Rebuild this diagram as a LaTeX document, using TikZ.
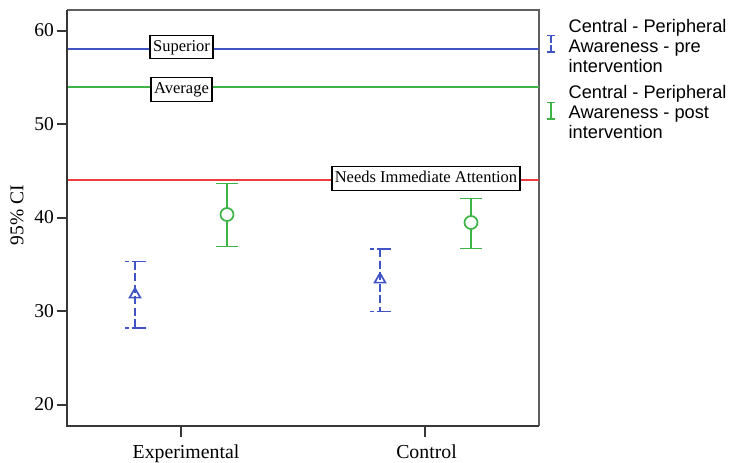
\documentclass[tikz,border=0pt]{standalone}
\usepackage{fontspec}
\setmainfont{Liberation Serif}
\newfontfamily\legendfont{Liberation Sans}
\usetikzlibrary{shapes.geometric}

\definecolor{preblue}{RGB}{64,84,196}
\definecolor{postgreen}{RGB}{62,180,72}
\definecolor{alertred}{RGB}{236,62,62}
\definecolor{framegray}{RGB}{55,55,55}

\tikzset{
  axisline/.style={draw=framegray, line width=2pt},
  frameline/.style={draw=framegray!80, line width=1.2pt},
  refline/.style={line width=1.8pt},
  refbox/.style={draw=black, fill=white, line width=1.4pt, font=\fontsize{16.5}{18}\selectfont,
    inner xsep=3pt, inner ysep=4pt, text height=12pt, text depth=3.5pt},
  ticklabel/.style={font=\fontsize{19.5}{21}\selectfont},
  prebar/.style={draw=preblue, line width=1.9pt, dash pattern=on 8pt off 3.5pt},
  precap/.style={draw=preblue, line width=1.9pt, dash pattern=on 4pt off 3pt on 14pt off 0pt},
  postbar/.style={draw=postgreen, line width=1.9pt},
  premark/.style={regular polygon, regular polygon sides=3, draw=preblue, line width=1.7pt,
    minimum size=12.5pt, inner sep=0pt},
  postmark/.style={circle, draw=postgreen, fill=white, line width=1.7pt,
    minimum size=13pt, inner sep=0pt},
  legendtext/.style={font=\legendfont\fontsize{18.2}{20}\selectfont, align=left, anchor=west, inner sep=0pt},
}

\begin{document}
\begin{tikzpicture}[x=1pt, y=-1pt]
\useasboundingbox[fill=white] (0,0) rectangle (731,463);

% plot frame
\coordinate (tl) at (67,10);
\coordinate (tr) at (539,10);
\coordinate (bl) at (67,425.5);
\coordinate (br) at (539,425.5);
\draw[frameline] (tl) -- (tr) -- (br);

% reference levels
\coordinate (supL) at (67,49.2);   \coordinate (supR) at (539,49.2);
\coordinate (avgL) at (67,86.8);   \coordinate (avgR) at (539,86.8);
\coordinate (nedL) at (67,180.1);  \coordinate (nedR) at (539,180.1);
\draw[refline, preblue] (supL) -- (supR);
\draw[refline, postgreen] (avgL) -- (avgR);
\draw[refline, alertred] (nedL) -- (nedR);

\node[refbox] (superior) at (181.5,47) {Superior};
\node[refbox] (average) at (181.5,89.5) {Average};
\node[refbox] (needs) at (426,178.5) {Needs Immediate Attention};

% axes
\draw[axisline] (tl) -- (bl) -- (br);

% y ticks
\foreach \v/\yy in {60/30.5, 50/124, 40/217.5, 30/311, 20/404.5} {
  \coordinate (yt\v) at (57,\yy);
  \coordinate (ya\v) at (67,\yy);
  \draw[axisline] (yt\v) -- (ya\v);
  \node[ticklabel, anchor=east, inner sep=0pt] (yl\v) at (54,\yy) {\v};
}
\node[ticklabel, rotate=90] (ytitle) at (17,215) {95\% CI};

% x ticks
\coordinate (xe0) at (180.5,425.5); \coordinate (xe1) at (180.5,436.5);
\coordinate (xc0) at (425,425.5);   \coordinate (xc1) at (425,436.5);
\draw[axisline] (xe0) -- (xe1);
\draw[axisline] (xc0) -- (xc1);
\node[ticklabel, anchor=base, font=\fontsize{19.8}{21}\selectfont] (xlexp) at (186,458) {Experimental};
\node[ticklabel, anchor=base, font=\fontsize{19.8}{21}\selectfont] (xlctl) at (426.5,458) {Control};

% Experimental, pre intervention
\coordinate (ept) at (135,261.5); \coordinate (epb) at (135,328);
\coordinate (eptl) at (124.5,261.5); \coordinate (eptr) at (145.5,261.5);
\coordinate (epbl) at (124.5,328);   \coordinate (epbr) at (145.5,328);
\draw[prebar] (ept) -- (epb);
\draw[precap] (eptl) -- (eptr);
\draw[precap] (epbl) -- (epbr);
\node[premark] (epm) at (135,294.5) {};

% Experimental, post intervention
\coordinate (eqt) at (227,183.5); \coordinate (eqb) at (227,246.5);
\coordinate (eqtl) at (216,183.5); \coordinate (eqtr) at (238,183.5);
\coordinate (eqbl) at (216,246.5); \coordinate (eqbr) at (238,246.5);
\draw[postbar] (eqt) -- (eqb);
\draw[postbar] (eqtl) -- (eqtr);
\draw[postbar] (eqbl) -- (eqbr);
\node[postmark] (eqm) at (227,214.5) {};

% Control, pre intervention
\coordinate (cpt) at (380,249); \coordinate (cpb) at (380,311.5);
\coordinate (cptl) at (369.5,249); \coordinate (cptr) at (390.5,249);
\coordinate (cpbl) at (369.5,311.5); \coordinate (cpbr) at (390.5,311.5);
\draw[prebar] (cpt) -- (cpb);
\draw[precap] (cptl) -- (cptr);
\draw[precap] (cpbl) -- (cpbr);
\node[premark] (cpm) at (380,279.5) {};

% Control, post intervention
\coordinate (cqt) at (471,198.5); \coordinate (cqb) at (471,248.5);
\coordinate (cqtl) at (460,198.5); \coordinate (cqtr) at (482,198.5);
\coordinate (cqbl) at (460,248.5); \coordinate (cqbr) at (482,248.5);
\draw[postbar] (cqt) -- (cqb);
\draw[postbar] (cqtl) -- (cqtr);
\draw[postbar] (cqbl) -- (cqbr);
\node[postmark] (cqm) at (471,222.5) {};

% legend
\coordinate (lpt) at (551,35.5); \coordinate (lpb) at (551,52);
\draw[preblue, line width=1.4pt, dash pattern=on 7pt off 2.5pt] (lpt) -- (lpb);
\draw[preblue, line width=1.4pt] (547,35.5) -- (555,35.5);
\draw[preblue, line width=1.4pt] (547,52) -- (555,52);
\node[legendtext] (legpre) at (568.5,46) {Central - Peripheral\\Awareness - pre\\intervention};

\coordinate (lqt) at (551,102.5); \coordinate (lqb) at (551,119);
\draw[postgreen, line width=1.4pt] (lqt) -- (lqb);
\draw[postgreen, line width=1.4pt] (547,102.5) -- (555,102.5);
\draw[postgreen, line width=1.4pt] (547,119) -- (555,119);
\node[legendtext] (legpost) at (568.5,112) {Central - Peripheral\\Awareness - post\\intervention};
\end{tikzpicture}
\end{document}
